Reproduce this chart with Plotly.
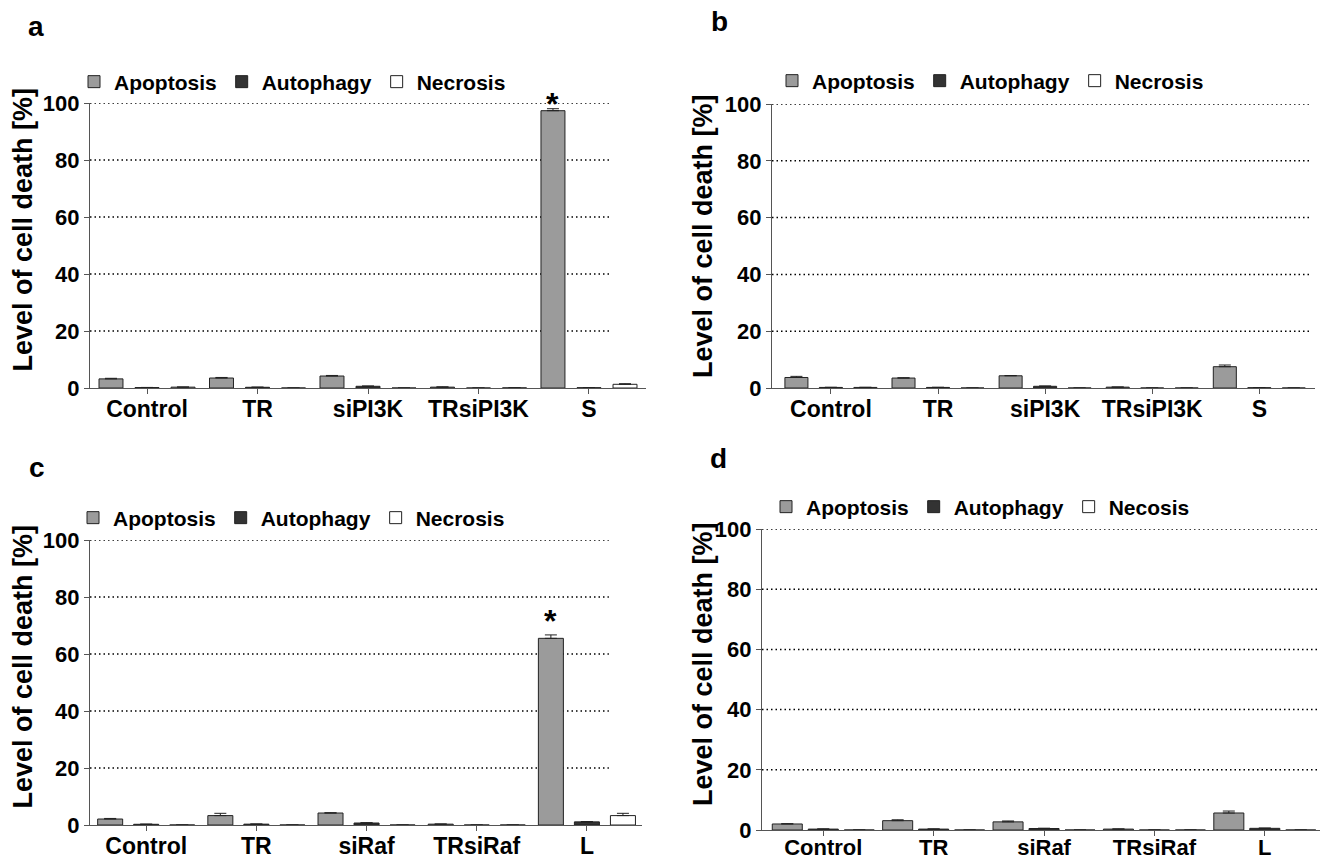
import plotly.graph_objects as go

W, H = 1320, 861

# ---------------- data ----------------
cats_ab = ["Control", "TR", "siPI3K", "TRsiPI3K", "S"]
cats_cd = ["Control", "TR", "siRaf", "TRsiRaf", "L"]

a_apoptosis = [3.2, 3.5, 4.2, 0.3, 97.3]
a_apoptosis_err = [0.2, 0.2, 0.2, 0.1, 0.7]
a_autophagy = [0.15, 0.25, 0.6, 0.0, 0.1]
a_autophagy_err = [0.05, 0.05, 0.1, 0.0, 0.0]
a_necrosis = [0.3, 0.0, 0.0, 0.05, 1.3]
a_necrosis_err = [0.05, 0.0, 0.0, 0.0, 0.2]

b_apoptosis = [3.7, 3.5, 4.3, 0.3, 7.5]
b_apoptosis_err = [0.4, 0.1, 0.1, 0.05, 0.6]
b_autophagy = [0.2, 0.2, 0.6, 0.0, 0.1]
b_autophagy_err = [0.05, 0.05, 0.1, 0.0, 0.0]
b_necrosis = [0.2, 0.0, 0.0, 0.0, 0.0]
b_necrosis_err = [0.05, 0.0, 0.0, 0.0, 0.0]

c_apoptosis = [2.1, 3.3, 4.2, 0.3, 65.5]
c_apoptosis_err = [0.2, 0.8, 0.1, 0.05, 1.2]
c_autophagy = [0.25, 0.3, 0.7, 0.0, 1.1]
c_autophagy_err = [0.05, 0.05, 0.1, 0.0, 0.1]
c_necrosis = [0.0, 0.0, 0.0, 0.0, 3.3]
c_necrosis_err = [0.0, 0.0, 0.0, 0.0, 0.8]

d_apoptosis = [2.0, 3.1, 2.7, 0.3, 5.65]
d_apoptosis_err = [0.1, 0.3, 0.3, 0.05, 0.65]
d_autophagy = [0.3, 0.3, 0.5, 0.0, 0.55]
d_autophagy_err = [0.05, 0.05, 0.1, 0.0, 0.1]
d_necrosis = [0.0, 0.0, 0.0, 0.0, 0.0]
d_necrosis_err = [0.0, 0.0, 0.0, 0.0, 0.0]

y_ticks = [0, 20, 40, 60, 80, 100]
series_names_abc = ["Apoptosis", "Autophagy", "Necrosis"]
series_names_d = ["Apoptosis", "Autophagy", "Necosis"]

# ---------------- style ----------------
FONT = "Liberation Sans, Arial, sans-serif"
COL_APO = "#9b9b9b"
COL_AUT = "#333333"
COL_NEC = "#ffffff"
EDGE = "#222222"
AXC = "#555555"


def px_x(p):
    return p / W


def px_y(p):
    return 1 - p / H


panels = [
    dict(cats=cats_ab,
         data=[(a_apoptosis, a_apoptosis_err), (a_autophagy, a_autophagy_err), (a_necrosis, a_necrosis_err)],
         xd=(90, 646), yd=(103, 388), xr=[-0.516, 4.516], bw=0.217, sp=0.326, gf=0.935,
         leg=(94, 82), names=series_names_abc, label=("a", 36, 27), title_y=230,
         tfs=23, tso=-5),
    dict(cats=cats_ab,
         data=[(b_apoptosis, b_apoptosis_err), (b_autophagy, b_autophagy_err), (b_necrosis, b_necrosis_err)],
         xd=(772, 1315), yd=(104, 388), xr=[-0.55, 4.52], bw=0.215, sp=0.322, gf=0.99,
         leg=(792, 81), names=series_names_abc, label=("b", 719, 21), title_y=236,
         tfs=23, tso=-5),
    dict(cats=cats_cd,
         data=[(c_apoptosis, c_apoptosis_err), (c_autophagy, c_autophagy_err), (c_necrosis, c_necrosis_err)],
         xd=(90, 642), yd=(540, 825), xr=[-0.51, 4.5], bw=0.227, sp=0.327, gf=0.94,
         leg=(93, 518), names=series_names_abc, label=("c", 37, 467), title_y=667,
         tfs=23, tso=-5),
    dict(cats=cats_cd,
         data=[(d_apoptosis, d_apoptosis_err), (d_autophagy, d_autophagy_err), (d_necrosis, d_necrosis_err)],
         xd=(762, 1320), yd=(529, 830), xr=[-0.555, 4.5], bw=0.272, sp=0.326, gf=1.0,
         leg=(786, 507), names=series_names_d, label=("d", 718, 459), title_y=664,
         tfs=22, tso=-8),
]

fills = [COL_APO, COL_AUT, COL_NEC]

fig = go.Figure()
shapes = []
annotations = []
layout = {}

for i, p in enumerate(panels):
    n = i + 1
    xa = "x" if n == 1 else f"x{n}"
    ya = "y" if n == 1 else f"y{n}"
    leg = "legend" if n == 1 else f"legend{n}"
    for k, ((vals, errs), name, fill) in enumerate(zip(p["data"], p["names"], fills)):
        center = (k - 1) * p["sp"]
        fig.add_trace(go.Bar(
            x=p["cats"], y=vals, name=name,
            width=p["bw"], offset=center - p["bw"] / 2,
            marker=dict(color=fill, line=dict(color=EDGE, width=1)),
            error_y=dict(type="data", array=errs, arrayminus=[0] * len(errs),
                         symmetric=False, color=EDGE, thickness=1, width=6),
            xaxis=xa, yaxis=ya, legend=leg, showlegend=True,
        ))
    layout["xaxis" if n == 1 else f"xaxis{n}"] = dict(
        domain=[px_x(p["xd"][0]), px_x(p["xd"][1])], anchor=ya, automargin=False,
        type="category", range=p["xr"], showline=True, linecolor=AXC, linewidth=1.2,
        ticks="outside", ticklen=5, tickcolor=AXC, showgrid=False, zeroline=False,
        ticklabelstandoff=p["tso"],
        tickfont=dict(family=FONT, size=p["tfs"], color="black", weight="bold"),
    )
    layout["yaxis" if n == 1 else f"yaxis{n}"] = dict(
        domain=[px_y(p["yd"][1]), px_y(p["yd"][0])], anchor=xa, automargin=False,
        range=[0, 100], tickvals=y_ticks, showline=True, linecolor=AXC, linewidth=1.2,
        ticks="outside", ticklen=5, tickcolor=AXC, showgrid=False, zeroline=False,
        tickfont=dict(family=FONT, size=22, color="black", weight="bold"),
    )
    for v in y_ticks[1:]:
        shapes.append(dict(type="line", xref=f"{xa} domain", yref=ya, x0=0, x1=p["gf"],
                           y0=v, y1=v, layer="below",
                           line=dict(color="black", width=1.5, dash="1.5px,3px")))
    layout[leg] = dict(
        orientation="h", x=px_x(p["leg"][0] - 20), y=px_y(p["leg"][1]),
        xanchor="left", yanchor="middle", bgcolor="rgba(0,0,0,0)",
        font=dict(family=FONT, size=21, color="black", weight="bold"),
        itemclick=False, traceorder="normal",
    )
    lab, lx, ly = p["label"]
    annotations.append(dict(text=lab, xref="paper", yref="paper", x=px_x(lx), y=px_y(ly),
                             xanchor="center", yanchor="middle", showarrow=False,
                             font=dict(family=FONT, size=28, color="black", weight="bold")))
    tx = 22.5 if n in (1, 3) else 703
    annotations.append(dict(text="Level of cell death [%]", xref="paper", yref="paper",
                            x=px_x(tx), y=px_y(p["title_y"]), textangle=-90,
                            xanchor="center", yanchor="middle", showarrow=False,
                            font=dict(family=FONT, size=27, color="black", weight="bold")))

annotations.append(dict(text="*", xref="x", yref="y", x=4 - panels[0]["sp"],
                        y=a_apoptosis[4] + a_apoptosis_err[4], yanchor="bottom", yshift=-15,
                        showarrow=False, font=dict(family=FONT, size=32, color="black", weight="bold")))
annotations.append(dict(text="*", xref="x3", yref="y3", x=4 - panels[2]["sp"],
                        y=c_apoptosis[4] + c_apoptosis_err[4], yanchor="bottom", yshift=-6,
                        showarrow=False, font=dict(family=FONT, size=32, color="black", weight="bold")))

fig.update_layout(
    width=W, height=H, margin=dict(l=0, r=0, t=0, b=0, autoexpand=False),
    paper_bgcolor="white", plot_bgcolor="white",
    barmode="overlay", shapes=shapes, annotations=annotations,
    font=dict(family=FONT, color="black"),
    **layout,
)

fig.write_html("out.html")
